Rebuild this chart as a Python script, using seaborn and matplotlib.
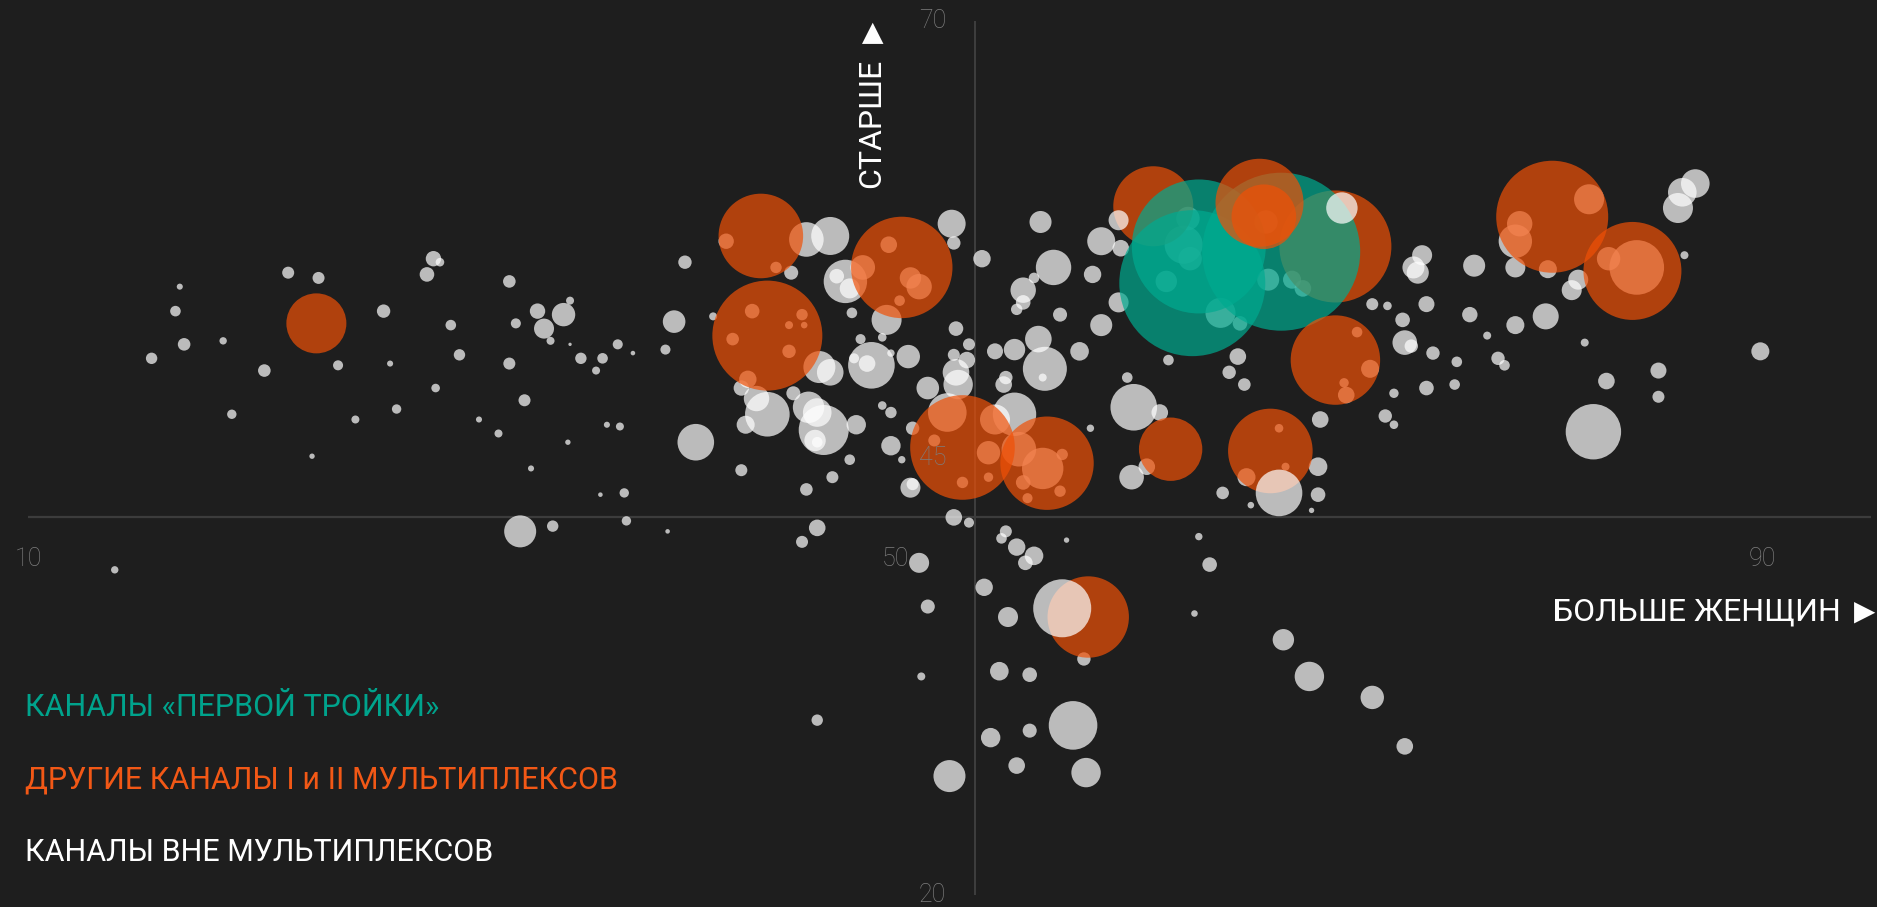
import pandas as pd
import matplotlib.pyplot as plt
import seaborn as sns

# share of women in the audience (%), mean audience age, audience size (share, %)
# channels outside the multiplexes (the last four are drawn above the big bubbles)
women_other = [
    17.0, 16.8, 17.2, 15.7, 19.0, 22.0, 23.4, 20.9, 24.3, 19.4,
    25.1, 23.1, 26.4, 26.7, 27.0, 28.7, 29.0, 28.4, 29.5, 29.9,
    28.8, 30.8, 31.7, 32.2, 32.5, 32.2, 32.9, 33.5, 33.8, 34.1,
    34.7, 35.0, 35.0, 35.5, 36.5, 36.2, 33.2, 34.9, 36.7, 36.4,
    32.7, 34.2, 14.0, 37.2, 37.3,
    40.3, 39.8, 41.6, 39.4, 37.9, 45.2, 47.0, 47.7, 47.3, 47.9,
    48.0, 48.4, 49.4, 49.6, 48.9, 48.7, 48.1, 49.8, 50.6, 52.6,
    52.7, 54.0, 52.8, 53.4, 52.7, 53.3, 52.8, 52.9, 51.5, 49.4,
    49.8, 48.2, 50.8, 49.8, 50.3, 47.9, 47.1, 45.9, 42.9, 37.5,
    40.8, 43.1, 42.9, 43.6, 44.1, 45.3, 46.0, 46.4, 46.7, 46.3,
    46.4, 50.7, 50.8, 56.7, 57.3, 55.9, 56.4, 55.9, 55.6, 57.6,
    56.6, 55.5, 54.6, 56.9, 56.8, 55.1, 55.0, 58.5, 59.1, 59.5,
    60.4, 59.5, 60.3, 60.7, 59.0, 61.0, 60.9,
    42.2, 44.5, 45.9, 43.4, 45.7, 45.1, 45.8, 42.5, 45.1, 43.2,
    46.5, 47.0, 49.7, 48.5, 50.7, 51.1, 50.2, 52.4, 51.8, 54.3,
    53.1, 54.3, 54.6, 55.5, 55.7, 56.8, 57.7, 55.9, 57.6, 56.1,
    67.2, 68.3, 68.8, 62.5, 65.0, 65.9, 63.5, 63.3, 63.6, 67.1,
    74.3, 73.9, 74.1, 76.7, 78.6, 78.6, 78.8, 82.0, 80.1, 81.5,
    81.2, 82.9, 84.2, 72.0, 72.7, 74.5, 73.4, 73.5, 73.8, 74.8,
    75.9, 76.5, 77.3, 77.8, 78.1, 78.6, 80.0, 81.8, 82.8, 82.2,
    73.0, 74.5, 75.8, 72.6, 73.0, 69.6, 69.5, 62.6, 65.8, 65.4,
    66.1, 62.2, 71.3, 71.9, 70.7, 70.8, 67.7, 68.0, 66.2, 61.6,
    86.9, 86.3, 86.1, 86.4, 85.2, 85.2, 89.9,
    37.6, 39.5, 46.4, 45.7, 52.7, 53.4, 55.1, 54.9, 55.6, 56.4,
    56.0, 57.9, 51.1, 54.1, 51.5, 55.2, 58.7, 51.2, 54.8, 56.2,
    46.4, 54.4, 56.2, 58.2, 55.6, 58.8, 52.5,
    65.1, 66.4, 69.5, 69.2, 64.0, 64.5, 63.8, 67.9, 69.1, 72.0, 73.5,
    70.6, 60.3, 57.7, 67.7,
]
age_other = [
    54.8, 53.4, 51.5, 50.7, 51.7, 55.6, 55.3, 50.0, 50.3, 47.5,
    47.2, 45.1, 53.4, 50.4, 47.8, 56.4, 56.2, 55.5, 52.6, 50.9,
    49.0, 47.2, 46.4, 55.1, 52.7, 50.4, 48.3, 53.4, 52.4, 51.7,
    53.2, 54.0, 51.5, 50.7, 50.7, 50.0, 44.4, 45.9, 46.9, 42.9,
    40.8, 41.1, 38.6, 51.5, 46.8,
    56.2, 52.8, 53.1, 51.2, 51.0, 55.6, 57.7, 55.1, 55.4, 54.7,
    53.3, 51.8, 51.9, 52.9, 50.3, 50.4, 50.7, 51.0, 50.8, 58.4,
    57.3, 56.4, 52.4, 51.5, 50.9, 50.6, 49.9, 49.2, 49.0, 48.0,
    47.6, 46.9, 46.7, 45.7, 44.9, 44.9, 43.9, 43.2, 44.3, 43.0,
    45.9, 46.9, 49.0, 48.4, 47.5, 48.7, 47.9, 47.6, 46.6, 46.0,
    45.9, 43.3, 43.5, 58.5, 55.9, 54.6, 55.3, 53.9, 53.5, 53.2,
    51.8, 51.2, 51.1, 50.1, 49.6, 49.6, 49.2, 51.1, 55.5, 57.4,
    57.0, 52.6, 53.9, 49.6, 46.7, 47.9, 43.9,
    57.4, 55.9, 57.5, 53.4, 53.2, 52.6, 52.6, 51.8, 51.1, 49.5,
    50.2, 49.9, 57.2, 55.9, 55.3, 54.8, 54.0, 47.6, 46.0, 45.3,
    43.6, 43.9, 47.2, 47.5, 45.5, 44.4, 45.2, 43.6, 43.1, 42.7,
    55.2, 55.2, 54.7, 55.1, 53.3, 52.7, 58.7, 57.2, 56.4, 58.5,
    56.6, 55.9, 55.6, 56.0, 55.9, 57.4, 58.4, 59.8, 55.8, 55.2,
    54.6, 56.4, 55.9, 53.8, 53.7, 53.8, 52.9, 51.6, 51.4, 51.0,
    50.5, 53.2, 52.0, 50.7, 50.3, 52.6, 53.1, 51.6, 49.4, 46.5,
    48.7, 49.0, 49.2, 47.4, 46.9, 47.2, 44.5, 50.6, 50.8, 49.9,
    49.2, 47.6, 52.2, 50.1, 49.3, 48.6, 46.7, 44.5, 43.9, 44.5,
    60.7, 60.2, 59.3, 56.6, 50.0, 48.5, 51.1,
    41.4, 40.8, 41.0, 40.2, 41.6, 41.3, 40.8, 40.4, 39.9, 39.4,
    39.0, 40.3, 39.0, 37.6, 36.5, 35.9, 33.5, 32.5, 32.8, 32.6,
    30.0, 29.0, 29.4, 29.7, 27.4, 27.0, 26.8,
    43.0, 42.3, 42.9, 42.0, 40.5, 38.9, 36.1, 34.6, 32.5, 31.3, 28.5,
    59.3, 58.6, 36.4, 43.0,
]
aud_other = [
    0.023, 0.070, 0.099, 0.081, 0.034, 0.090, 0.090, 0.099, 0.063, 0.055,
    0.040, 0.018, 0.112, 0.023, 0.055, 0.148, 0.046, 0.133, 0.070, 0.081,
    0.046, 0.023, 0.040, 0.099, 0.063, 0.090, 0.090, 0.148, 0.250, 0.040,
    0.342, 0.040, 0.007, 0.081, 0.070, 0.040, 0.023, 0.018, 0.023, 0.013,
    0.640, 0.081, 0.034, 0.063, 0.040,
    0.112, 0.319, 0.040, 0.063, 0.013, 0.123, 0.903, 1.177, 0.133, 0.250,
    0.070, 0.063, 0.046, 0.563, 1.357, 0.172, 0.063, 0.034, 0.342, 0.490,
    0.112, 0.189, 0.133, 0.090, 0.090, 0.172, 0.442, 0.540, 0.319, 0.046,
    0.081, 0.235, 0.112, 0.235, 0.034, 0.070, 0.090, 0.099, 0.090, 0.055,
    0.837, 0.203, 0.148, 0.403, 1.243, 0.123, 0.616, 0.511, 1.563, 0.286,
    0.070, 0.250, 0.090, 0.303, 0.783, 0.403, 0.070, 0.133, 0.081, 0.123,
    0.442, 0.286, 0.160, 1.210, 0.040, 0.112, 0.172, 0.216, 0.189, 0.490,
    0.172, 0.303, 0.250, 0.070, 0.034, 1.357, 0.378,
    0.148, 0.081, 0.748, 0.133, 0.081, 0.040, 0.027, 0.099, 0.112, 0.189,
    0.640, 0.442, 0.172, 0.378, 0.286, 0.403, 0.070, 0.931, 0.090, 0.342,
    0.081, 0.055, 0.563, 1.177, 0.748, 1.071, 0.081, 0.133, 0.081, 0.063,
    0.303, 0.203, 0.172, 0.286, 0.563, 0.133, 0.342, 0.903, 0.342, 0.342,
    0.250, 0.303, 0.303, 0.303, 0.250, 0.697, 0.403, 0.563, 0.203, 0.250,
    0.250, 0.342, 1.863, 0.090, 0.046, 0.160, 0.133, 0.378, 0.112, 0.112,
    0.070, 0.148, 0.040, 0.112, 0.070, 0.203, 0.423, 0.040, 0.172, 1.918,
    0.055, 0.133, 0.070, 0.112, 0.046, 0.172, 0.216, 0.070, 0.172, 0.112,
    0.099, 0.172, 0.070, 0.203, 0.055, 0.172, 0.046, 0.040, 0.203, 0.172,
    0.511, 0.511, 0.563, 0.040, 0.160, 0.090, 0.203,
    0.055, 0.013, 0.172, 0.090, 0.172, 0.063, 0.090, 0.070, 0.189, 0.216,
    0.133, 0.018, 0.250, 0.189, 0.123, 0.250, 0.112, 0.040, 0.216, 0.133,
    0.081, 0.235, 0.123, 1.476, 0.172, 0.540, 0.640,
    0.099, 0.027, 0.133, 0.018, 0.034, 0.133, 0.027, 0.286, 0.540, 0.342, 0.172,
    0.616, 0.250, 2.103, 1.357,
]

# other channels of multiplexes I and II (first two sit under the big three)
women_mux = [61.9, 70.3, 23.3, 43.8, 44.1, 50.3, 53.1, 57.0,
             66.8, 67.0, 70.3, 80.3, 84.0, 62.7, 67.3, 58.9]
age_mux = [59.4, 57.1, 52.7, 57.7, 52.0, 55.9, 45.6, 44.7,
           59.6, 58.8, 50.6, 58.8, 55.7, 45.5, 45.4, 35.9]
aud_mux = [4.00, 7.84, 2.25, 4.47, 7.56, 6.43, 6.84, 5.45,
           4.84, 2.61, 5.00, 7.84, 6.00, 2.51, 4.47, 4.14]

# "big three"
women_big3 = [63.7, 67.8, 64.0]
age_big3 = [55.0, 56.8, 57.1]
aud_big3 = [13.32, 15.60, 11.22]

avg_women = 53.7
avg_age = 41.6
x_ticks = [10, 50, 90]
y_ticks = [70, 45, 20]

bg = "#1e1e1e"
colors = {"big3": "#00aa90", "mux": "#ef5007", "other": "#ffffff"}
text_colors = {"big3": "#00a38c", "mux": "#f25816", "other": "#ffffff"}
labels = {"big3": "КАНАЛЫ «ПЕРВОЙ ТРОЙКИ»",
          "mux": "ДРУГИЕ КАНАЛЫ I и II МУЛЬТИПЛЕКСОВ",
          "other": "КАНАЛЫ ВНЕ МУЛЬТИПЛЕКСОВ"}


def frame(x, y, a, g):
    return pd.DataFrame({"women": x, "age": y, "audience": a, "group": g})


df = pd.concat([
    frame(women_other[:-4], age_other[:-4], aud_other[:-4], "other"),
    frame(women_mux[:2], age_mux[:2], aud_mux[:2], "mux"),
    frame(women_big3, age_big3, aud_big3, "big3"),
    frame(women_mux[2:], age_mux[2:], aud_mux[2:], "mux"),
    frame(women_other[-4:], age_other[-4:], aud_other[-4:], "other"),
], ignore_index=True)

sns.set_style("dark", {"axes.facecolor": bg, "figure.facecolor": bg})
plt.rcParams["font.family"] = ["Roboto", "DejaVu Sans"]

fig = plt.figure(figsize=(18.77, 9.07), dpi=100)
ax = fig.add_axes([0, 0, 1, 1])

ax.vlines(avg_women, 20, 70, color="#444444", lw=1.2, zorder=0.5)
ax.hlines(avg_age, 10, 95, color="#3c3c3c", lw=1.6, zorder=0.5)

# area proportional to audience: 20 px radius per sqrt(1 %)
vmax = 16
sns.scatterplot(data=df, x="women", y="age", hue="group", palette=colors,
                size="audience", sizes=(0, 829.44 * vmax), size_norm=(0, vmax),
                alpha=0.7, linewidth=0, legend=False, ax=ax)

gray = "#7d7d7d"
for t in x_ticks:
    ax.text(t, 39.2, str(t), ha="center", va="center", color=gray,
            fontsize=18, fontweight="light")
for t in y_ticks:
    ax.text(52.35, t, str(t), ha="right", va="center", color=gray,
            fontsize=18, fontweight="light")

# axis titles; the arrow glyph comes from DejaVu Sans
tri = ["DejaVu Sans"]
ax.text(48.93, 69.95, "▶", rotation=90, ha="center", va="top",
        color="white", fontsize=20, family=tri)
ax.text(48.93, 67.85, "СТАРШЕ", rotation=90, ha="center", va="top",
        color="white", fontsize=23)
ax.text(95.2, 36.2, "▶", ha="right", va="center", color="white",
        fontsize=20, family=tri)
ax.text(93.6, 36.2, "БОЛЬШЕ ЖЕНЩИН", ha="right", va="center",
        color="white", fontsize=23)

for g, ypos in zip(["big3", "mux", "other"], [30.75, 26.6, 22.45]):
    ax.text(9.86, ypos, labels[g], ha="left", va="center",
            color=text_colors[g], fontsize=22)

ax.set_xlim(8.708, 95.28)
ax.set_ylim(19.31, 71.2)
ax.axis("off")

fig.savefig("out.png", dpi=100, facecolor=bg)
